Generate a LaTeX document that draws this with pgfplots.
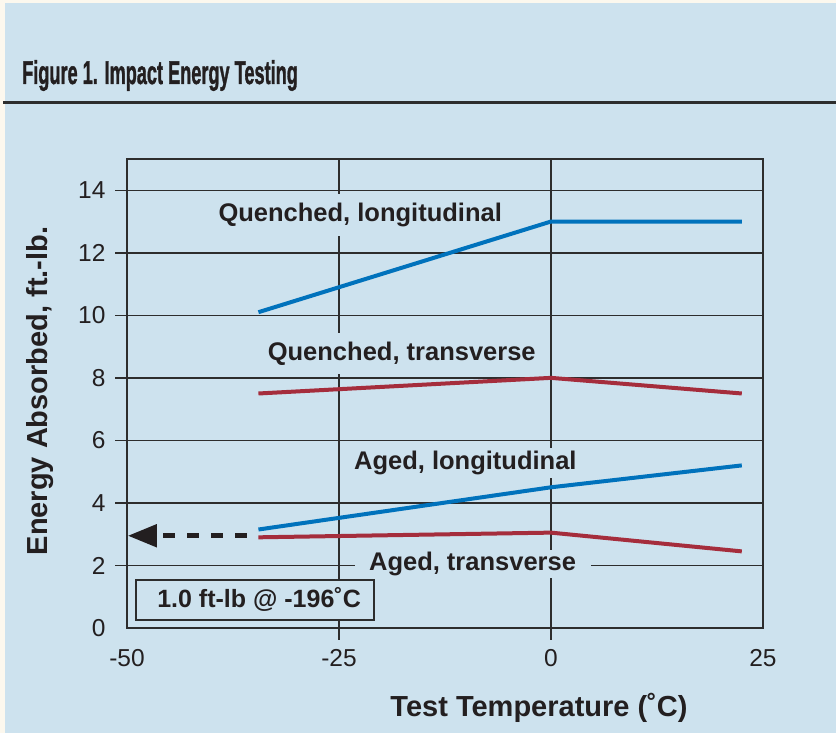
\documentclass[border=0pt]{standalone}
\usepackage{fontspec}
\setmainfont{Liberation Sans}
\usepackage{pgfplots}
\pgfplotsset{compat=1.18}
\usetikzlibrary{arrows.meta}
\definecolor{bgblue}{RGB}{205,226,238}
\definecolor{cream}{RGB}{252,248,238}
\definecolor{lblue}{RGB}{0,114,188}
\definecolor{lred}{RGB}{165,45,60}
\definecolor{gridc}{RGB}{45,45,45}
\definecolor{txt}{RGB}{35,31,32}
\begin{document}
\begin{tikzpicture}[x=1pt,y=1pt]
\useasboundingbox (0,0) rectangle (836,733);
\fill[cream] (0,0) rectangle (836,733);
\fill[bgblue] (5,0) rectangle (836,730);
\node[anchor=base west, inner sep=0, text=txt] at (22,649) {\scalebox{0.55}[1]{\fontsize{33}{38}\selectfont\bfseries\addfontfeatures{FakeBold=1.5}Figure 1. Impact Energy Testing}};
\fill[gridc] (3,628.5) rectangle (836,631.5);
\begin{axis}[
  at={(127pt,105pt)}, anchor=south west, scale only axis,
  width=636pt, height=469pt,
  xmin=-50, xmax=25, ymin=0, ymax=15,
  xtick={-25,0}, extra x ticks={-50,25},
  extra x tick style={major tick style={draw=none}},
  ytick={2,4,6,8,10,12,14}, extra y ticks={0},
  extra y tick style={major tick style={draw=none}},
  xtick pos=bottom, ytick pos=left,
  tick align=outside, major tick length=12pt,
  tick style={gridc, line width=1.5pt},
  grid=major, major grid style={gridc, line width=1.5pt},
  axis line style={gridc, line width=2pt},
  /pgf/number format/assume math mode=true,
  ticklabel style={font=\fontsize{24.5}{29}\selectfont, text=txt},
  xticklabel style={anchor=north, yshift=-6pt},
  yticklabel style={anchor=east, xshift=-6pt},
  clip=false,
]
\node[fill=bgblue, inner xsep=12pt, inner ysep=9pt, text=txt, font=\fontsize{25.5}{30}\selectfont\bfseries] at (axis cs:-22.5,13.2) {Quenched, longitudinal};
\node[fill=bgblue, inner xsep=12pt, inner ysep=9pt, text=txt, font=\fontsize{25.5}{30}\selectfont\bfseries] at (axis cs:-17.6,8.78) {Quenched, transverse};
\node[fill=bgblue, inner xsep=12pt, inner ysep=3pt, text=txt, font=\fontsize{25.5}{30}\selectfont\bfseries] at (axis cs:-10.1,5.28) {Aged, longitudinal};
\node[fill=bgblue, inner xsep=14.5pt, inner ysep=2pt, text=txt, font=\fontsize{25.5}{30}\selectfont\bfseries] at (axis cs:-9.25,2.06) {Aged, transverse};
\node[draw=gridc, line width=2pt, fill=bgblue, minimum width=238pt, minimum height=40pt, inner sep=0pt, text=txt, font=\fontsize{25}{30}\selectfont\bfseries] at (axis cs:-34.9,0.9) {\hspace*{8pt}1.0 ft-lb @ -196˚C};
\addplot[lblue, line width=4pt] coordinates {(-34.5,10.1) (0,13.0) (22.5,13.0)};
\addplot[lred, line width=4pt] coordinates {(-34.5,7.5) (0,8.0) (22.5,7.5)};
\addplot[lblue, line width=4pt] coordinates {(-34.5,3.15) (0,4.5) (22.5,5.2)};
\addplot[lred, line width=4pt] coordinates {(-34.5,2.9) (0,3.05) (22.5,2.45)};
\addplot[txt, line width=5pt, dash pattern=on 12pt off 12pt, -{Triangle[length=29pt,width=22pt]}] coordinates {(-35.9,2.95) (-49.9,2.95)};
\end{axis}
\node[rotate=90, text=txt, font=\fontsize{29}{34}\selectfont\bfseries] at (40,342) {Energy Absorbed, ft.-lb.};
\node[text=txt, font=\fontsize{29}{34}\selectfont\bfseries] at (539,25) {Test Temperature (˚C)};
\end{tikzpicture}
\end{document}
